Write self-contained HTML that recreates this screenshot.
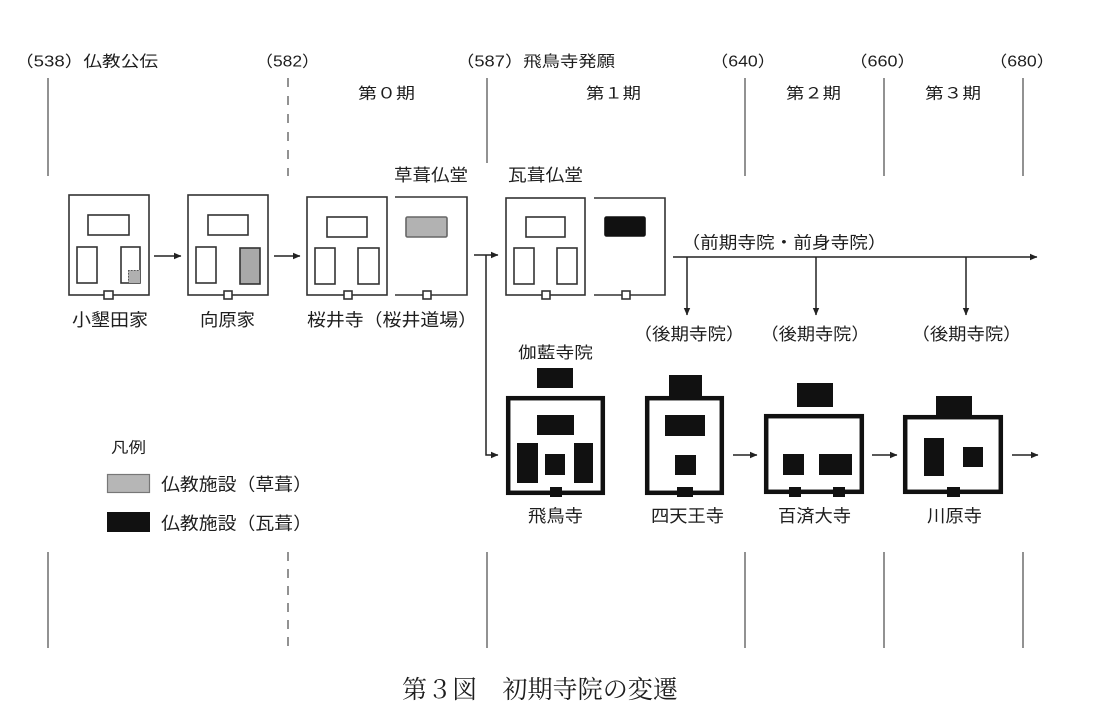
<!DOCTYPE html>
<html><head><meta charset="utf-8">
<style>
html,body{margin:0;padding:0;background:#fff;}
svg{display:block;}
text{font-family:"Liberation Sans","Noto Sans CJK JP",sans-serif;fill:#1e1e1e;}
.cap{font-family:"Liberation Serif","Noto Serif CJK SC",serif;}
</style></head>
<body>
<svg width="1101" height="711" viewBox="0 0 1101 711" xmlns="http://www.w3.org/2000/svg">
<defs>
<marker id="ah" markerWidth="8" markerHeight="8" refX="7" refY="4" orient="auto" markerUnits="userSpaceOnUse">
<path d="M0,0.8 L7.5,4 L0,7.2 Z" fill="#222"/>
</marker>
</defs>
<rect width="1101" height="711" fill="#fff"/>

<!-- timeline verticals top -->
<g stroke="#777" stroke-width="1.6" fill="none">
<line x1="48" y1="78" x2="48" y2="176"/>
<line x1="288" y1="78" x2="288" y2="176" stroke-dasharray="9 9"/>
<line x1="487" y1="78" x2="487" y2="163"/>
<line x1="745" y1="78" x2="745" y2="176"/>
<line x1="884" y1="78" x2="884" y2="176"/>
<line x1="1023" y1="78" x2="1023" y2="176"/>
<!-- bottom -->
<line x1="48" y1="552" x2="48" y2="648"/>
<line x1="288" y1="552" x2="288" y2="648" stroke-dasharray="9 8"/>
<line x1="487" y1="552" x2="487" y2="648"/>
<line x1="745" y1="552" x2="745" y2="648"/>
<line x1="884" y1="552" x2="884" y2="648"/>
<line x1="1023" y1="552" x2="1023" y2="648"/>
</g>

<!-- top labels -->
<g font-size="15.5">
<text x="15" y="66.7" textLength="143" lengthAdjust="spacingAndGlyphs">（538）仏教公伝</text>
<text x="255.5" y="66.7" textLength="64" lengthAdjust="spacingAndGlyphs">（582）</text>
<text x="456" y="66.7" textLength="159" lengthAdjust="spacingAndGlyphs">（587）飛鳥寺発願</text>
<text x="710.5" y="66.7" textLength="65" lengthAdjust="spacingAndGlyphs">（640）</text>
<text x="849.5" y="66.7" textLength="66" lengthAdjust="spacingAndGlyphs">（660）</text>
<text x="989.5" y="66.7" textLength="65" lengthAdjust="spacingAndGlyphs">（680）</text>
<text x="358" y="98.7" textLength="57" lengthAdjust="spacingAndGlyphs">第０期</text>
<text x="586" y="98.7" textLength="55" lengthAdjust="spacingAndGlyphs">第１期</text>
<text x="786" y="98.7" textLength="55" lengthAdjust="spacingAndGlyphs">第２期</text>
<text x="925" y="98.7" textLength="56" lengthAdjust="spacingAndGlyphs">第３期</text>
</g>
<g font-size="17">
<text x="394" y="180.8" textLength="74" lengthAdjust="spacingAndGlyphs">草葺仏堂</text>
<text x="508" y="180.8" textLength="75" lengthAdjust="spacingAndGlyphs">瓦葺仏堂</text>
</g>

<!-- row 1 boxes -->
<g stroke="#333" stroke-width="1.6" fill="none">
<!-- box1 -->
<rect x="69" y="195" width="80" height="100"/>
<rect x="88" y="215" width="41" height="20"/>
<rect x="77" y="247" width="20" height="36"/>
<rect x="121" y="247" width="19" height="36"/>
<!-- box2 -->
<rect x="188" y="195" width="80" height="100"/>
<rect x="208" y="215" width="40" height="20"/>
<rect x="196" y="247" width="20" height="36"/>
<rect x="240" y="248" width="20" height="36" fill="#a9a9a9"/>
<!-- box3 -->
<rect x="307" y="197" width="80" height="98"/>
<rect x="327" y="217" width="40" height="20"/>
<rect x="315" y="248" width="20" height="36"/>
<rect x="358" y="248" width="21" height="36"/>
<!-- box4 -->
<path d="M395,197 H467 V295 H395"/>
<rect x="406" y="217" width="41" height="20" fill="#b2b2b2" stroke="#666" rx="1.5"/>
<!-- box5 -->
<rect x="506" y="198" width="79" height="97"/>
<rect x="526" y="217" width="39" height="20"/>
<rect x="514" y="248" width="20" height="36"/>
<rect x="557" y="248" width="20" height="36"/>
<!-- box6 -->
<path d="M594,198 H665 V295 H594"/>
<rect x="605" y="217" width="40" height="19" fill="#111" stroke="#111" rx="1.5"/>
<!-- gates -->
<rect x="104" y="291" width="9" height="8" fill="#fff"/>
<rect x="224" y="291" width="8" height="8" fill="#fff"/>
<rect x="344" y="291" width="8" height="8" fill="#fff"/>
<rect x="423" y="291" width="8" height="8" fill="#fff"/>
<rect x="542" y="291" width="8" height="8" fill="#fff"/>
<rect x="622" y="291" width="8" height="8" fill="#fff"/>
</g>
<!-- dotted gray square in box1 -->
<rect x="128" y="270" width="12" height="13" fill="#b0b0b0"/>
<path d="M128.5,270 V283 M128,270.5 H140" stroke="#555" stroke-width="1" stroke-dasharray="1.5 1.5" fill="none"/>

<!-- row1 arrows -->
<g stroke="#222" stroke-width="1.5" fill="none">
<line x1="154" y1="256" x2="181" y2="256" marker-end="url(#ah)"/>
<line x1="274" y1="256" x2="300" y2="256" marker-end="url(#ah)"/>
<line x1="474" y1="255" x2="498" y2="255" marker-end="url(#ah)"/>
<path d="M486,255 V455 H498" marker-end="url(#ah)"/>
<line x1="673" y1="257" x2="1037" y2="257" marker-end="url(#ah)"/>
<line x1="687" y1="257" x2="687" y2="315" marker-end="url(#ah)"/>
<line x1="816" y1="257" x2="816" y2="315" marker-end="url(#ah)"/>
<line x1="966" y1="257" x2="966" y2="315" marker-end="url(#ah)"/>
<line x1="733" y1="455" x2="757" y2="455" marker-end="url(#ah)"/>
<line x1="872" y1="455" x2="897" y2="455" marker-end="url(#ah)"/>
<line x1="1012" y1="455" x2="1038" y2="455" marker-end="url(#ah)"/>
</g>

<!-- row1 labels -->
<g font-size="17.5">
<text x="72" y="326" textLength="76" lengthAdjust="spacingAndGlyphs">小墾田家</text>
<text x="200" y="326" textLength="55" lengthAdjust="spacingAndGlyphs">向原家</text>
<text x="307" y="326" textLength="170" lengthAdjust="spacingAndGlyphs">桜井寺（桜井道場）</text>
</g>
<g font-size="17">
<text x="681.5" y="248.3" textLength="205" lengthAdjust="spacingAndGlyphs">（前期寺院・前身寺院）</text>
<text x="633.5" y="340" textLength="111" lengthAdjust="spacingAndGlyphs">（後期寺院）</text>
<text x="760.5" y="340" textLength="109" lengthAdjust="spacingAndGlyphs">（後期寺院）</text>
<text x="911.5" y="340" textLength="110" lengthAdjust="spacingAndGlyphs">（後期寺院）</text>
</g>
<text x="518" y="358" font-size="16" textLength="75" lengthAdjust="spacingAndGlyphs">伽藍寺院</text>

<!-- row 2 temples -->
<g fill="#111">
<!-- Asuka -->
<rect x="508.2" y="398.2" width="94.6" height="94.6" fill="none" stroke="#111" stroke-width="4.5"/>
<rect x="537" y="368" width="36" height="20"/>
<rect x="537" y="415" width="37" height="20"/>
<rect x="517" y="443" width="21" height="40"/>
<rect x="574" y="443" width="19" height="40"/>
<rect x="545" y="454" width="20" height="21"/>
<rect x="550" y="487" width="12" height="10"/>
<!-- Shitennoji -->
<rect x="647.2" y="398.2" width="74.6" height="94.6" fill="none" stroke="#111" stroke-width="4.5"/>
<rect x="669" y="375" width="33" height="22"/>
<rect x="665" y="415" width="40" height="21"/>
<rect x="675" y="455" width="21" height="20"/>
<rect x="677" y="487" width="16" height="10"/>
<!-- Kudara -->
<rect x="766.2" y="416.2" width="95.6" height="75.6" fill="none" stroke="#111" stroke-width="4.5"/>
<rect x="797" y="383" width="36" height="24"/>
<rect x="783" y="454" width="21" height="21"/>
<rect x="819" y="454" width="33" height="21"/>
<rect x="789" y="487" width="12" height="10"/>
<rect x="833" y="487" width="12" height="10"/>
<!-- Kawara -->
<rect x="905.2" y="417.2" width="95.6" height="74.6" fill="none" stroke="#111" stroke-width="4.5"/>
<rect x="936" y="396" width="36" height="20"/>
<rect x="924" y="438" width="20" height="38"/>
<rect x="963" y="447" width="20" height="20"/>
<rect x="947" y="487" width="13" height="10"/>
</g>

<g font-size="17.5">
<text x="528" y="522" textLength="55" lengthAdjust="spacingAndGlyphs">飛鳥寺</text>
<text x="651" y="522" textLength="73" lengthAdjust="spacingAndGlyphs">四天王寺</text>
<text x="778" y="522" textLength="73" lengthAdjust="spacingAndGlyphs">百済大寺</text>
<text x="927" y="522" textLength="55" lengthAdjust="spacingAndGlyphs">川原寺</text>
</g>

<!-- legend -->
<text x="111" y="452.5" font-size="15" textLength="35" lengthAdjust="spacingAndGlyphs">凡例</text>
<rect x="107.5" y="474.5" width="42" height="18" fill="#b6b6b6" stroke="#777" stroke-width="1.2"/>
<rect x="107" y="512" width="43" height="20" fill="#111"/>
<g font-size="17.5">
<text x="161" y="490.5" textLength="151" lengthAdjust="spacingAndGlyphs">仏教施設（草葺）</text>
<text x="161" y="529.5" textLength="151" lengthAdjust="spacingAndGlyphs">仏教施設（瓦葺）</text>
</g>

<!-- caption -->
<text class="cap" x="402" y="698" font-size="25" textLength="276" lengthAdjust="spacingAndGlyphs">第３図　初期寺院の変遷</text>
</svg>
</body></html>
